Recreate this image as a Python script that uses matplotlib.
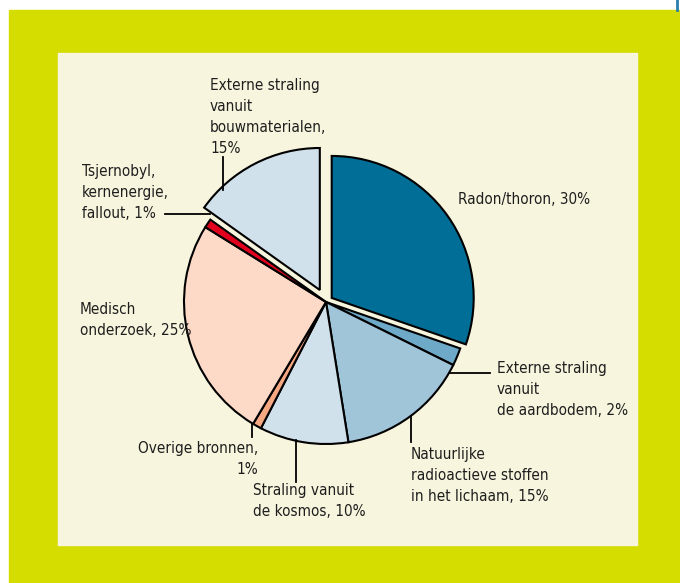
import matplotlib.pyplot as plt
from matplotlib.patches import Rectangle

# stralingsbronnen, aandeel in procenten
bronnen = ["Radon/thoron", "Externe straling vanuit de aardbodem",
           "Natuurlijke radioactieve stoffen in het lichaam",
           "Straling vanuit de kosmos", "Overige bronnen", "Medisch onderzoek",
           "Tsjernobyl, kernenergie, fallout",
           "Externe straling vanuit bouwmaterialen"]
aandeel = [30, 2, 15, 10, 1, 25, 1, 15]
kleuren = ["#006e96", "#6ea9c7", "#a0c5d9", "#d0e1ec", "#f5a882",
           "#fdd9c7", "#e1001e", "#d0e1ec"]
uitsnede = [7, 0, 0, 0, 0, 0, 0, 13.5]   # verschuiving in pixels

W, H = 680, 583
fig = plt.figure(figsize=(W / 100, H / 100), dpi=100)
ax = fig.add_axes([0, 0, 1, 1])

def y(p):
    # pixelrij (van boven) naar data-y
    return H - p

# kaders
ax.add_patch(Rectangle((9, 0), W - 9, y(10), color="#d4dc00", zorder=0))
ax.add_patch(Rectangle((58, y(545)), 637 - 58, 545 - 53, color="#f8f5de", zorder=1))
ax.plot([677, 677], [y(0), y(10)], color="#2a7fae", lw=2, zorder=1)

wedges, _ = ax.pie(aandeel, colors=kleuren, explode=uitsnede, startangle=90,
                   counterclock=False, center=(326, y(302)), radius=142,
                   wedgeprops=dict(edgecolor="black", linewidth=1.5),
                   frame=True)
for w in wedges:
    w.set_zorder(3)
ax.set_xlim(0, W)
ax.set_ylim(0, H)
ax.set_aspect("equal")
ax.axis("off")

tekst = dict(fontsize=11, color="#1e1e1e", linespacing=1.5,
             family=["Liberation Sans Narrow", "DejaVu Sans"],
             fontstretch="condensed", zorder=5)

def lijn(xs, ys):
    ax.plot(xs, [y(v) for v in ys], color="black", lw=1.3, zorder=4)

ax.text(210, y(78), "Externe straling\nvanuit\nbouwmaterialen,\n15%", va="top", **tekst)
lijn([223, 223], [157, 190])

ax.text(82, y(164), "Tsjernobyl,\nkernenergie,\nfallout, 1%", va="top", **tekst)
lijn([165, 210], [214, 214])

ax.text(80, y(302), "Medisch\nonderzoek, 25%", va="top", **tekst)

ax.text(458, y(199), "Radon/thoron, 30%", va="center", **tekst)

ax.text(497, y(361), "Externe straling\nvanuit\nde aardbodem, 2%", va="top", **tekst)
lijn([450, 490], [373, 373])

ax.text(411, y(447), "Natuurlijke\nradioactieve stoffen\nin het lichaam, 15%", va="top", **tekst)
lijn([411, 411], [416, 442])

ax.text(258, y(441), "Overige bronnen,\n1%", va="top", ha="right", multialignment="right", **tekst)
lijn([252, 252], [424, 437])

ax.text(253, y(483), "Straling vanuit\nde kosmos, 10%", va="top", **tekst)
lijn([296, 296], [440, 482])

fig.savefig("out.png", dpi=100, facecolor="white")
